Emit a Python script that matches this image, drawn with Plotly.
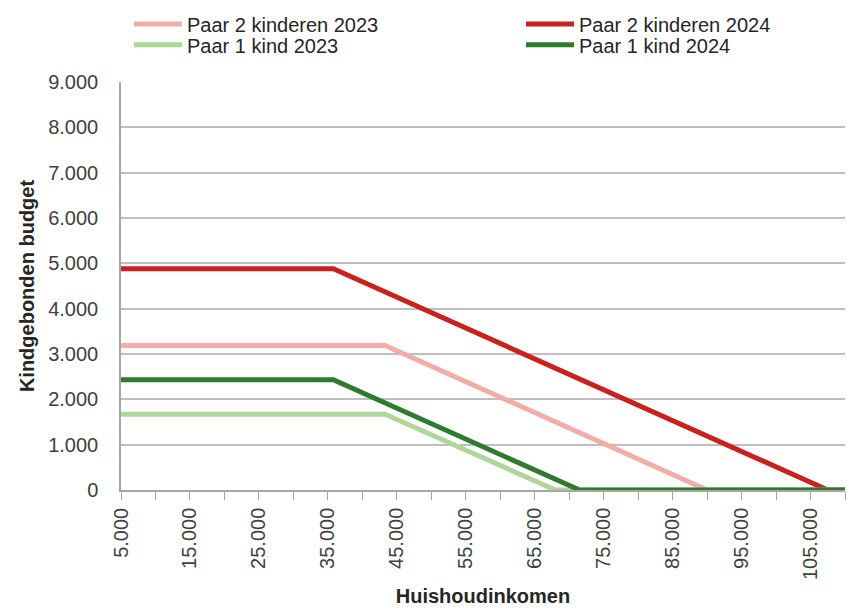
import plotly.graph_objects as go

# Data
series_names = ["Paar 2 kinderen 2023", "Paar 2 kinderen 2024", "Paar 1 kind 2023", "Paar 1 kind 2024"]
income_p2_2023 = [5000, 43300, 90000, 110000]
budget_p2_2023 = [3190, 3190, 0, 0]
income_p2_2024 = [5000, 35800, 107500, 110000]
budget_p2_2024 = [4880, 4880, 0, 0]
income_p1_2023 = [5000, 43300, 68000, 110000]
budget_p1_2023 = [1670, 1670, 0, 0]
income_p1_2024 = [5000, 35800, 71500, 110000]
budget_p1_2024 = [2430, 2430, 0, 0]
colors = ["#F2ADA8", "#C9211E", "#B1D69C", "#2E7A2E"]

x_tickvals = list(range(5000, 110000, 10000))
y_tickvals = list(range(0, 9001, 1000))

xs = [income_p2_2023, income_p2_2024, income_p1_2023, income_p1_2024]
ys = [budget_p2_2023, budget_p2_2024, budget_p1_2023, budget_p1_2024]
legend_ids = ["legend", "legend2", "legend3", "legend4"]

fig = go.Figure()
for name, x, y, c, lg in zip(series_names, xs, ys, colors, legend_ids):
    fig.add_trace(go.Scatter(x=x, y=y, mode="lines", name=name, legend=lg,
                             line=dict(color=c, width=5)))

font_family = "Liberation Sans, Arial, sans-serif"
# legend placement (paper coords): two columns, two rows
legend_pos = {"legend": (0.011, 1.142), "legend2": (0.5525, 1.142),
              "legend3": (0.011, 1.091), "legend4": (0.5525, 1.091)}
legend_layout = {}
for lg, (lx, ly) in legend_pos.items():
    legend_layout[lg] = dict(orientation="h", x=lx, xanchor="left", y=ly, yanchor="middle",
                             font=dict(size=20, color="#262626"), itemwidth=48,
                             bgcolor="rgba(0,0,0,0)")

fig.update_layout(
    width=849, height=610,
    margin=dict(l=121, r=4, t=82, b=120),
    paper_bgcolor="white", plot_bgcolor="white",
    separators=",.",
    font=dict(family=font_family, size=20, color="#262626"),
    showlegend=True,
    **legend_layout,
    xaxis=dict(range=[5000, 110000], tickvals=x_tickvals, tickformat=",d",
               tickangle=-90, ticks="outside", ticklen=8, tickcolor="#A6A6A6",
               minor=dict(dtick=5000, tick0=5000, ticks="outside", ticklen=8, tickcolor="#A6A6A6"),
               showline=True, linecolor="#A6A6A6", linewidth=1.5,
               showgrid=False, zeroline=False, automargin=False,
               tickfont=dict(size=20, color="#404040"),
               title=dict(text="<b>Huishoudinkomen</b>", font=dict(size=20, color="#262626"), standoff=10)),
    yaxis=dict(range=[0, 9000], tickvals=y_tickvals, tickformat=",d",
               ticks="", ticklabelstandoff=17,
               showline=True, linecolor="#A6A6A6", linewidth=1.5,
               showgrid=True, gridcolor="#BFBFBF", gridwidth=1.5, zeroline=False, automargin=False,
               tickfont=dict(size=20, color="#404040"),
               title=dict(text="<b>Kindgebonden budget</b>", font=dict(size=20, color="#262626"), standoff=8)),
)

fig.write_html("out.html", config={"displayModeBar": False},
               post_script="document.body.style.margin='0';")
